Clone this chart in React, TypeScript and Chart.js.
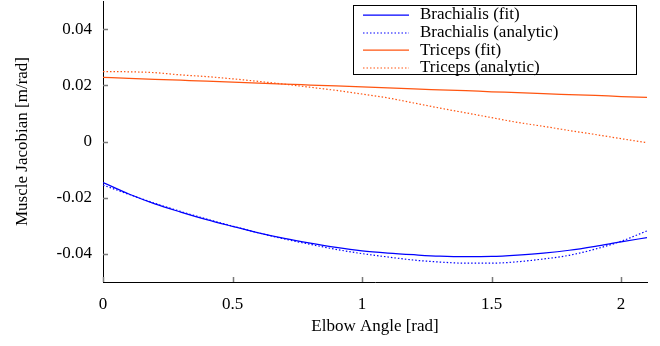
import React, { useEffect, useRef } from 'react';
import { Chart, registerables } from 'chart.js';

Chart.register(...registerables);

const angles = [0, 0.1, 0.2, 0.3, 0.4, 0.5, 0.6, 0.7, 0.8, 0.9, 1.0, 1.1, 1.2, 1.3, 1.4, 1.5, 1.6, 1.7, 1.8, 1.9, 2.0, 2.1];
const brachialisFit = [-0.0146, -0.0187, -0.0222, -0.0251, -0.0278, -0.0302, -0.0325, -0.0345, -0.0362, -0.0377, -0.0389, -0.0397, -0.0403, -0.0408, -0.0410, -0.0409, -0.0404, -0.0397, -0.0387, -0.0373, -0.0357, -0.0342];
const brachialisAnalytic = [-0.0155, -0.0188, -0.0220, -0.0249, -0.0276, -0.0301, -0.0325, -0.0347, -0.0366, -0.0384, -0.0399, -0.0411, -0.0422, -0.0429, -0.0433, -0.0433, -0.0428, -0.0418, -0.0405, -0.0383, -0.0355, -0.0318];
const tricepsFit = [0.0228, 0.0225, 0.0221, 0.0218, 0.0215, 0.0211, 0.0208, 0.0204, 0.0201, 0.0198, 0.0194, 0.0191, 0.0187, 0.0184, 0.0181, 0.0177, 0.0174, 0.0170, 0.0167, 0.0164, 0.0160, 0.0157];
const tricepsAnalytic = [0.0249, 0.0248, 0.0245, 0.0237, 0.0231, 0.0223, 0.0214, 0.0204, 0.0193, 0.0182, 0.0169, 0.0155, 0.0137, 0.0119, 0.0102, 0.0085, 0.0068, 0.0054, 0.0039, 0.0025, 0.0010, -0.0004];

const xTicks = [0, 0.5, 1, 1.5, 2];
const yTicks = [-0.04, -0.02, 0, 0.02, 0.04];
const seriesLabels = ['Brachialis (fit)', 'Brachialis (analytic)', 'Triceps (fit)', 'Triceps (analytic)'];
const xTitle = 'Elbow Angle [rad]';
const yTitle = 'Muscle Jacobian [m/rad]';

const BLUE = '#0000ff';
const ORANGE = '#ff5511';
const FONT = '"Liberation Serif", "DejaVu Serif", serif';
const FS = 17;

const toPoints = (ys: number[]) => angles.map((x, i) => ({ x, y: ys[i] }));

const innerTicksPlugin = {
  id: 'innerTicks',
  afterDraw(chart: any) {
    const { ctx, chartArea, scales } = chart;
    ctx.save();
    ctx.strokeStyle = '#7a7a7a';
    ctx.lineWidth = 1.5;
    ctx.beginPath();
    for (const v of xTicks) {
      const px = Math.round(scales.x.getPixelForValue(v)) + 0.5;
      ctx.moveTo(px, chartArea.bottom);
      ctx.lineTo(px, chartArea.bottom - 5);
    }
    for (const v of yTicks) {
      const py = Math.round(scales.y.getPixelForValue(v)) + 0.5;
      ctx.moveTo(chartArea.left, py);
      ctx.lineTo(chartArea.left + 5, py);
    }
    ctx.stroke();
    ctx.restore();
  },
};

const boxLegendPlugin = {
  id: 'boxLegend',
  afterDraw(chart: any) {
    const { ctx } = chart;
    const x0 = 353.5, y0 = 5.5, w = 283, h = 69;
    ctx.save();
    ctx.fillStyle = '#ffffff';
    ctx.fillRect(x0, y0, w, h);
    ctx.strokeStyle = '#000000';
    ctx.lineWidth = 1;
    ctx.strokeRect(x0, y0, w, h);
    chart.data.datasets.forEach((ds: any, i: number) => {
      const y = 15 + i * 17.6;
      ctx.beginPath();
      ctx.strokeStyle = ds.borderColor;
      ctx.lineWidth = ds.borderWidth;
      ctx.setLineDash(ds.borderDash || []);
      ctx.moveTo(363, Math.round(y));
      ctx.lineTo(409, Math.round(y));
      ctx.stroke();
      ctx.setLineDash([]);
      ctx.fillStyle = '#000000';
      ctx.font = `${FS}px ${FONT}`;
      ctx.textBaseline = 'middle';
      ctx.textAlign = 'left';
      ctx.fillText(ds.label, 420, y);
    });
    ctx.restore();
  },
};

export default function App() {
  const canvasRef = useRef<HTMLCanvasElement | null>(null);

  useEffect(() => {
    if (!canvasRef.current) return;
    const chart = new Chart(canvasRef.current, {
      type: 'line',
      data: {
        datasets: [
          { label: seriesLabels[0], data: toPoints(brachialisFit), borderColor: BLUE, borderWidth: 1.25, borderDash: [] },
          { label: seriesLabels[1], data: toPoints(brachialisAnalytic), borderColor: BLUE, borderWidth: 1.2, borderDash: [1.5, 2] },
          { label: seriesLabels[2], data: toPoints(tricepsFit), borderColor: ORANGE, borderWidth: 1.25, borderDash: [] },
          { label: seriesLabels[3], data: toPoints(tricepsAnalytic), borderColor: ORANGE, borderWidth: 1.2, borderDash: [1.5, 2] },
        ],
      },
      options: {
        responsive: false,
        animation: false,
        layout: { padding: { left: 0, top: 1, right: 13, bottom: 0 } },
        elements: { point: { radius: 0 }, line: { cubicInterpolationMode: 'monotone' } },
        plugins: { legend: { display: false }, tooltip: { enabled: false } },
        scales: {
          x: {
            type: 'linear',
            min: 0,
            max: 2.1,
            afterFit: (s: any) => { s.height = 64; s.paddingLeft = 0; s.paddingRight = 0; },
            afterBuildTicks: (s: any) => { s.ticks = xTicks.map((v) => ({ value: v })); },
            grid: { display: false, drawTicks: false },
            border: { display: true, color: '#000000', width: 1 },
            ticks: {
              padding: 12,
              color: '#000000',
              font: { family: FONT, size: FS },
              maxRotation: 0,
              callback: (v: any) => String(Math.round(Number(v) * 10) / 10),
            },
            title: { display: true, text: xTitle, color: '#000000', font: { family: FONT, size: FS }, padding: { top: 0, bottom: 9 } },
          },
          y: {
            type: 'linear',
            min: -0.05,
            max: 0.05,
            afterFit: (s: any) => { s.width = 103; s.paddingTop = 0; s.paddingBottom = 0; },
            afterBuildTicks: (s: any) => { s.ticks = yTicks.map((v) => ({ value: v })); },
            grid: { display: false, drawTicks: false },
            border: { display: true, color: '#000000', width: 1 },
            ticks: {
              padding: 11,
              color: '#000000',
              font: { family: FONT, size: FS },
              callback: (v: any) => (Math.abs(Number(v)) < 1e-9 ? '0' : Number(v).toFixed(2)),
            },
            title: { display: true, text: yTitle, color: '#000000', font: { family: FONT, size: FS }, padding: { top: 12, bottom: 0 } },
          },
        },
      },
      plugins: [innerTicksPlugin, boxLegendPlugin],
    });
    return () => chart.destroy();
  }, []);

  return (
    <div style={{ position: 'fixed', left: 0, top: 0, width: 660, height: 346, background: '#ffffff' }}>
      <canvas ref={canvasRef} width={660} height={346} />
    </div>
  );
}
